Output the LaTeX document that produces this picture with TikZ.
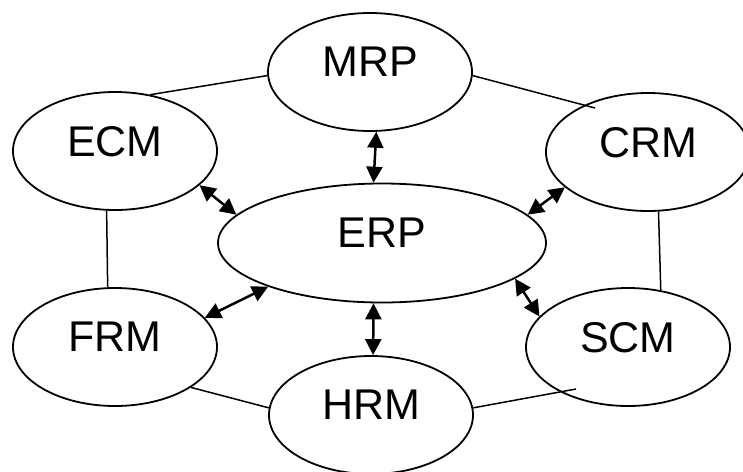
\documentclass[tikz,border=0pt]{standalone}
\usepackage{fontspec}
\setmainfont{Liberation Sans}
\usepackage{tikz}
\usetikzlibrary{shapes}
\usetikzlibrary{arrows.meta}

\tikzset{
    module/.style={draw, ellipse, line width=1.8pt, inner sep=0pt, minimum width=204pt, minimum height=118pt, text depth=20pt, font=\fontsize{43}{48}\selectfont},
    link/.style={line width=1.5pt},
    flow/.style={line width=2.5pt, {Triangle[length=16pt,width=16pt]}-{Triangle[length=16pt,width=16pt]}}
}

\begin{document}
\begin{tikzpicture}[x=1pt,y=-1pt]
    \useasboundingbox (0,0) rectangle (743,471); % page size of the reference
    \clip (0,0) rectangle (743,471); % CRM and HRM run off the page
    \node[module] (mrp) at (370,72) {MRP};
    \node[module] (ecm) at (115,151) {ECM};
    \node[module] (crm) at (648,152) {CRM};
    \node[module, minimum width=328pt, minimum height=119pt] (erp) at (382,243) {ERP};
    \node[module] (frm) at (115,347) {FRM};
    \node[module] (scm) at (628,347) {SCM};
    \node[module] (hrm) at (371,415) {HRM};
    \coordinate (crm in) at ([shift={(-53,-44)}]crm.center); % line ends inside CRM
    \coordinate (scm in) at ([shift={(-52,42)}]scm.center); % line ends inside SCM
    % outer ring
    \draw[link] (ecm.58) -- (mrp.182);
    \draw[link] (mrp.-2) -- (crm in);
    \draw[link] (ecm.-98) -- (frm.97);
    \draw[link] (crm.-80) -- (scm.60);
    \draw[link] (frm.-28) -- (hrm.176);
    \draw[link] (hrm.4) -- (scm in);
    % spokes to ERP
    \draw[flow] (mrp.-84) -- (erp.98);
    \draw[flow] (ecm.-22) -- (erp.169);
    \draw[flow] (crm.-157) -- (erp.11);
    \draw[flow] (frm.18) -- (erp.-159);
    \draw[flow] (scm.161) -- (erp.-15);
    \draw[flow] (erp.-98) -- (hrm.88);
\end{tikzpicture}
\end{document}
